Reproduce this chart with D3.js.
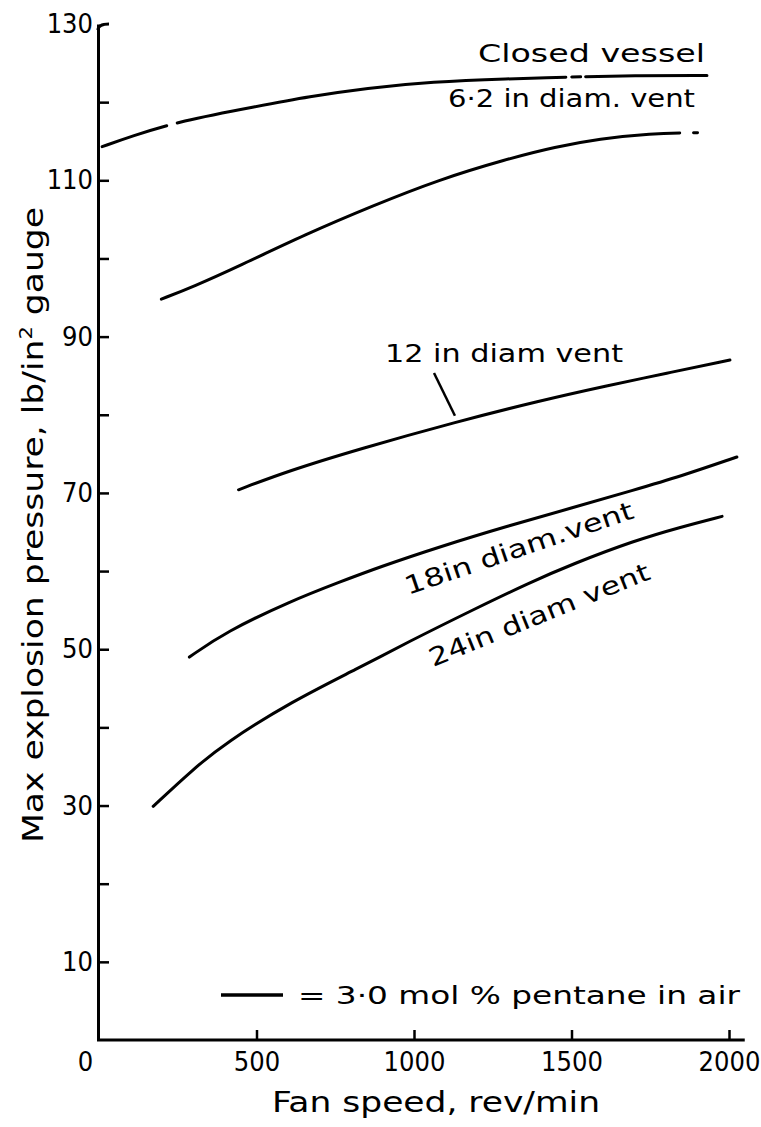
<!DOCTYPE html>
<html>
<head>
<meta charset="utf-8">
<script src="https://cdn.jsdelivr.net/npm/d3@7"></script>
<style>
  html, body { margin: 0; padding: 0; background: #fff; }
  svg { display: block; }
  text { font-family: "Liberation Sans Narrow", "DejaVu Sans Condensed", "Liberation Sans", sans-serif; fill: #000; }
</style>
</head>
<body>
<script>
// Fan speed (rev/min) vs maximum explosion pressure (lb/in² gauge)
const closedVessel = [[10,114.3],[100,115.6],[258,117.6],[506,119.5],[666,120.7],[850,121.8],[1057,122.6],[1300,123.0],[1484,123.2],[1700,123.4],[1930,123.4]];
const vent62 = [[198,94.8],[300,96.4],[443,99.0],[656,103.1],[866,106.7],[1080,110.1],[1293,112.7],[1450,114.3],[1589,115.3],[1748,116.0],[1900,116.1]];
const vent12 = [[443,70.4],[600,72.8],[825,75.6],[1134,79.1],[1400,81.8],[1611,83.7],[1800,85.3],[2003,87.0]];
const vent18 = [[287,49.0],[401,52.2],[611,56.2],[764,58.6],[889,60.5],[1080,63.1],[1300,65.8],[1503,68.1],[1700,70.4],[1844,72.1],[2025,74.6]];
const vent24 = [[172,29.9],[300,34.7],[401,38.0],[611,43.3],[825,47.6],[975,50.8],[1200,55.3],[1366,58.5],[1503,60.9],[1700,63.9],[1844,65.6],[1978,67.0]];

const xTicks = [0, 500, 1000, 1500, 2000];
const yTicks = [10, 20, 30, 40, 50, 60, 70, 80, 90, 100, 110, 120, 130];
const yTickLabels = [10, 30, 50, 70, 90, 110, 130];

const W = 761, H = 1127;
const svg = d3.select("body").append("svg").attr("width", W).attr("height", H);

const x = d3.scaleLinear().domain([0, 2000]).range([99, 729]);
const y = d3.scaleLinear().domain([0, 130]).range([1040, 24]);

// y axis: inward ticks, labels on every other tick
const yAxis = d3.axisLeft(y)
  .tickValues(yTicks)
  .tickSizeInner(-11)
  .tickSizeOuter(0)
  .tickPadding(7)
  .tickFormat(d => yTickLabels.includes(d) ? d : "");
const gy = svg.append("g").attr("transform", "translate(98,0)").call(yAxis);
gy.select(".domain").attr("stroke", "#000").attr("stroke-width", 3);
gy.selectAll(".tick line").attr("stroke", "#000").attr("stroke-width", 2.5);
gy.selectAll(".tick").filter(d => d === 130).select("line").remove();
gy.selectAll(".tick text").attr("font-size", 27).attr("fill", "#000").attr("x", -5);

// small hook at the top of the y axis
svg.append("path")
  .attr("d", `M98,${y(130) + 6} Q98,${y(130)} 109,${y(130)}`)
  .attr("fill", "none").attr("stroke", "#000").attr("stroke-width", 3);

// x axis
svg.append("line")
  .attr("x1", 97).attr("x2", x(2050)).attr("y1", 1040).attr("y2", 1040)
  .attr("stroke", "#000").attr("stroke-width", 3);
const xAxis = d3.axisBottom(x).tickValues(xTicks).tickFormat(d3.format("d"))
  .tickSizeInner(-10).tickSizeOuter(0).tickPadding(12);
const gx = svg.append("g").attr("transform", "translate(0,1040)").call(xAxis);
gx.select(".domain").remove();
gx.selectAll(".tick line").attr("stroke", "#000").attr("stroke-width", 2.5);
gx.selectAll(".tick").filter(d => d === 0).select("line").remove();
gx.selectAll(".tick text").attr("font-size", 27).attr("fill", "#000")
  .attr("dx", d => d === 0 ? -14 : 0);

// curves
const line = d3.line().x(d => x(d[0])).y(d => y(d[1])).curve(d3.curveBasis);
function drawCurve(data) {
  return svg.append("path").datum(data)
    .attr("d", line)
    .attr("fill", "none").attr("stroke", "#000")
    .attr("stroke-width", 3).attr("stroke-linecap", "round");
}
const pClosed = drawCurve(closedVessel);
const LC = pClosed.node().getTotalLength();
pClosed.attr("stroke-dasharray", `68 11 392 6 9 5 ${LC}`);
const p62 = drawCurve(vent62);
const L62 = p62.node().getTotalLength();
p62.attr("stroke-dasharray", `${L62 - 18} 14 4 ${L62}`);
drawCurve(vent12);
drawCurve(vent18);
drawCurve(vent24);

// curve labels
function label(txt, px, py, len, angle) {
  svg.append("text")
    .attr("transform", `translate(${px},${py}) rotate(${angle || 0})`)
    .attr("font-size", 25)
    .attr("textLength", len).attr("lengthAdjust", "spacingAndGlyphs")
    .text(txt);
}
label("Closed vessel", 478, 62, 227);
label("6·2 in diam. vent", 448, 107, 247);
label("12 in diam vent", 385, 362, 238);
label("18in diam.vent", 408, 595, 240, -18.8);
label("24in diam vent", 433, 667, 236, -22);

// leader from the 12 in label to its curve
svg.append("line")
  .attr("x1", 434).attr("y1", 373)
  .attr("x2", x(1130)).attr("y2", y(79.1) - 6)
  .attr("stroke", "#000").attr("stroke-width", 2.5);

// legend
svg.append("line").attr("x1", 221).attr("x2", 283).attr("y1", 995).attr("y2", 995)
  .attr("stroke", "#000").attr("stroke-width", 3.5);
svg.append("text")
  .attr("x", 298).attr("y", 1004)
  .attr("font-size", 25)
  .attr("textLength", 442).attr("lengthAdjust", "spacingAndGlyphs")
  .text("= 3·0  mol %  pentane in air");

// axis titles
svg.append("text")
  .attr("x", 436).attr("y", 1112)
  .attr("text-anchor", "middle")
  .attr("font-size", 28)
  .attr("textLength", 328).attr("lengthAdjust", "spacingAndGlyphs")
  .text("Fan speed, rev/min");

const yTitle = svg.append("text")
  .attr("transform", "translate(43,525) rotate(-90)")
  .attr("text-anchor", "middle")
  .attr("font-size", 28)
  .attr("textLength", 636).attr("lengthAdjust", "spacingAndGlyphs");
yTitle.append("tspan").text("Max explosion pressure,  lb/in");
yTitle.append("tspan").attr("font-size", 17).attr("dy", -11).text("2");
yTitle.append("tspan").attr("dy", 11).text(" gauge");
</script>
</body>
</html>
